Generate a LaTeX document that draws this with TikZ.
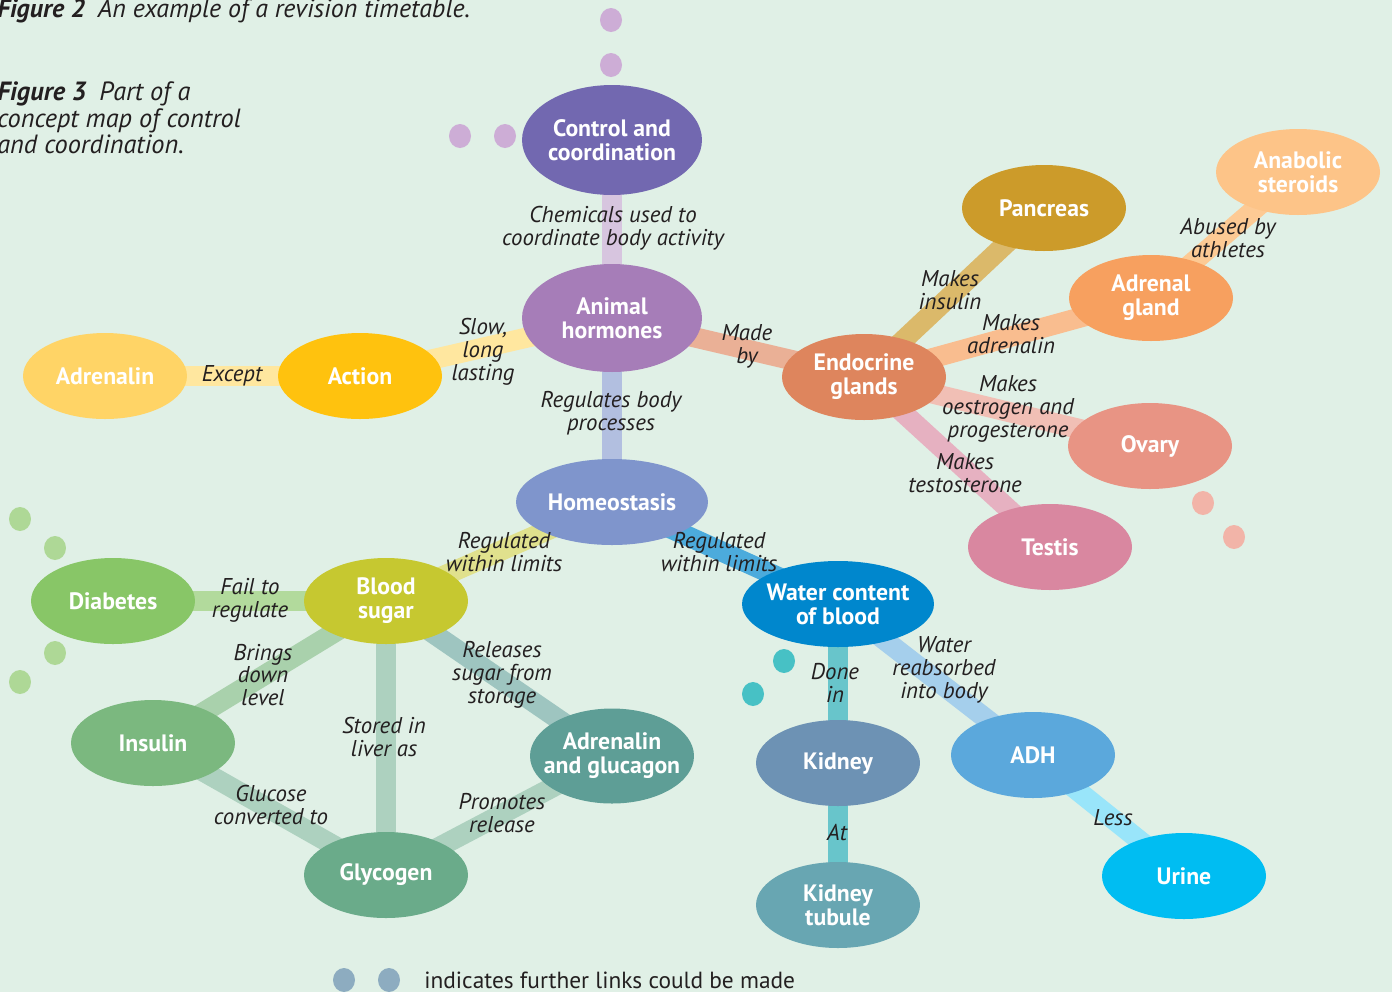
\documentclass[tikz,border=0pt]{standalone}
\usepackage{fontspec}
\setmainfont{PT Sans}
\usetikzlibrary{shapes.geometric}

\definecolor{bgc}{HTML}{E0F0E6}
\definecolor{ink}{HTML}{231F20}
\definecolor{ctrlc}{HTML}{7268B0}
\definecolor{hormc}{HTML}{A67DB8}
\definecolor{homc}{HTML}{7F95CC}
\definecolor{actc}{HTML}{FFC20E}
\definecolor{adrc}{HTML}{FFD466}
\definecolor{endoc}{HTML}{DE855D}
\definecolor{pancc}{HTML}{CC9B2A}
\definecolor{adglc}{HTML}{F7A05F}
\definecolor{anac}{HTML}{FDC488}
\definecolor{ovc}{HTML}{E89484}
\definecolor{tesc}{HTML}{D987A0}
\definecolor{bsc}{HTML}{C6C830}
\definecolor{diac}{HTML}{88C667}
\definecolor{insc}{HTML}{7BB87F}
\definecolor{glyc}{HTML}{6AAB8A}
\definecolor{agc}{HTML}{5E9E96}
\definecolor{wcc}{HTML}{0087CD}
\definecolor{kidc}{HTML}{6D92B4}
\definecolor{ktc}{HTML}{68A6B2}
\definecolor{adhc}{HTML}{5BA8DC}
\definecolor{urc}{HTML}{00BDF2}
\definecolor{kidlink}{HTML}{68C5CB}
\definecolor{purpdot}{HTML}{CDADD6}
\definecolor{greendot}{HTML}{AED896}
\definecolor{pinkdot}{HTML}{F2B4A8}
\definecolor{tealdot}{HTML}{47C1C5}
\definecolor{keydot}{HTML}{8DACC0}

\pgfdeclarelayer{back}
\pgfsetlayers{back,main}

\tikzset{main node/.style={ellipse,fill=#1,text=white,align=center,
    font=\bfseries\fontsize{13.5}{13.6}\selectfont,
    minimum width=3.28cm,minimum height=1.72cm,inner xsep=-7pt,inner ysep=0pt}}
\tikzset{link/.style={draw=#1,line width=11.5pt}}
\tikzset{lbl/.style={text=ink,align=center,inner sep=0pt,
    font=\itshape\fontsize{13}{13}\selectfont}}
\tikzset{dot/.style={ellipse,fill=#1,minimum width=0.44cm,minimum height=0.48cm,inner sep=0pt}}

\begin{document}
\begin{tikzpicture}[x=0.02cm,y=-0.02cm]
            \useasboundingbox (0,0) rectangle (1392,992);

            % concepts
            \node[main node=ctrlc, minimum width=3.6cm, minimum height=2.2cm] (ctrl) at (612,140) {Control and\\coordination};
            \node[main node=hormc, minimum width=3.6cm, minimum height=2.16cm] (horm) at (612,318) {Animal\\hormones};
            \node[main node=homc, minimum width=3.84cm] (homeo) at (612,502) {Homeostasis};
            \node[main node=actc] (action) at (360,376) {Action};
            \node[main node=adrc] (adren) at (105,376) {Adrenalin};
            \node[main node=endoc] (endo) at (864,377) {Endocrine\\glands};
            \node[main node=pancc] (panc) at (1044,208) {Pancreas};
            \node[main node=adglc] (adgl) at (1151,298) {Adrenal\\gland};
            \node[main node=anac] (ana) at (1298,172) {Anabolic\\steroids};
            \node[main node=ovc] (ovary) at (1150,446) {Ovary};
            \node[main node=tesc] (testis) at (1050,547) {Testis};
            \node[main node=bsc] (blood) at (386,601) {Blood\\sugar};
            \node[main node=diac] (diab) at (113,601) {Diabetes};
            \node[main node=insc] (insulin) at (153,743) {Insulin};
            \node[main node=glyc] (glyco) at (386,875) {Glycogen};
            \node[main node=agc, minimum height=1.9cm] (adgluc) at (612,756) {Adrenalin\\and glucagon};
            \node[main node=wcc, minimum width=3.84cm] (water) at (838,604) {Water content\\of blood};
            \node[main node=kidc] (kidney) at (838,763) {Kidney};
            \node[main node=ktc] (tubule) at (838,905) {Kidney\\tubule};
            \node[main node=adhc] (adh) at (1033,755) {ADH};
            \node[main node=urc] (urine) at (1184,876) {Urine};

            % links
            \begin{pgfonlayer}{back}
            \fill[bgc] (0,0) rectangle (1392,992);
            \draw[link=hormc!45!white] (ctrl.center) -- (horm.center);
            \draw[link=homc!60!white] (horm.center) -- (homeo.center);
            \draw[link=actc!40!white] (horm.center) -- (action.center);
            \draw[link=actc!40!white] (action.center) -- (adren.center);
            \draw[link=endoc!65!white] (horm.center) -- (endo.center);
            \draw[link=pancc!70!white] (endo.center) -- (panc.center);
            \draw[link=adglc!70!white] (endo.center) -- (adgl.center);
            \draw[link=anac!90!white] (adgl.center) -- (ana.center);
            \draw[link=ovc!60!white] (endo.center) -- (ovary.center);
            \draw[link=tesc!65!white] (endo.center) -- (testis.center);
            \draw[link=bsc!55!white] (homeo.center) -- (blood.center);
            \draw[link=wcc!70!white] (homeo.center) -- (water.center);
            \draw[link=diac!65!white] (blood.center) -- (diab.center);
            \draw[link=insc!65!white] (blood.center) -- (insulin.center);
            \draw[link=glyc!55!white] (blood.center) -- (glyco.center);
            \draw[link=agc!60!white] (blood.center) -- (adgluc.center);
            \draw[link=glyc!55!white] (insulin.center) -- (glyco.center);
            \draw[link=glyc!55!white] (glyco.center) -- (adgluc.center);
            \draw[link=kidlink] (water.center) -- (kidney.center);
            \draw[link=kidlink] (kidney.center) -- (tubule.center);
            \draw[link=adhc!55!white] (water.center) -- (adh.center);
            \draw[link=urc!40!white] (adh.center) -- (urine.center);
            \end{pgfonlayer}

            % link labels
            \node[lbl] (l1) at (613,228) {Chemicals used to\\coordinate body activity};
            \node[lbl] (l2) at (483,352) {Slow,\\long\\lasting};
            \node[lbl] (l3) at (747,346) {Made\\by};
            \node[lbl] (l4) at (611,413) {Regulates body\\processes};
            \node[lbl] (l5) at (232,376) {Except};
            \node[lbl] (l6) at (950,290) {Makes\\insulin};
            \node[lbl] (l7) at (1011,334) {Makes\\adrenalin};
            \node[lbl] (l8) at (1228,238) {Abused by\\athletes};
            \node[lbl] (l9) at (1008,409) {Makes\\oestrogen and\\progesterone};
            \node[lbl] (l10) at (965,473) {Makes\\testosterone};
            \node[lbl] (l11) at (504,552) {Regulated\\within limits};
            \node[lbl] (l12) at (719,552) {Regulated\\within limits};
            \node[lbl] (l13) at (250,600) {Fail to\\regulate};
            \node[lbl] (l14) at (263,675) {Brings\\down\\level};
            \node[lbl] (l15) at (502,675) {Releases\\sugar from\\storage};
            \node[lbl] (l16) at (384,737) {Stored in\\liver as};
            \node[lbl] (l17) at (271,805) {Glucose\\converted to};
            \node[lbl] (l18) at (502,813) {Promotes\\release};
            \node[lbl] (l19) at (835,683) {Done\\in};
            \node[lbl] (l20) at (944,670) {Water\\reabsorbed\\into body};
            \node[lbl] (l21) at (837,832) {At};
            \node[lbl] (l22) at (1113,818) {Less};

            % further links
            \node[dot=purpdot] (d1) at (611,20) {};
            \node[dot=purpdot] (d2) at (611,65) {};
            \node[dot=purpdot] (d3) at (460,136) {};
            \node[dot=purpdot] (d4) at (505,136) {};
            \node[dot=greendot] (d5) at (20,519) {};
            \node[dot=greendot] (d6) at (55,548) {};
            \node[dot=greendot] (d7) at (55,653) {};
            \node[dot=greendot] (d8) at (20,682) {};
            \node[dot=pinkdot] (d9) at (1203,503) {};
            \node[dot=pinkdot] (d10) at (1234,537) {};
            \node[dot=tealdot] (d11) at (784,661) {};
            \node[dot=tealdot] (d12) at (753,694) {};

            % captions and key
            \node[anchor=base west, text=ink, inner sep=0pt, font=\itshape\fontsize{14.8}{15}\selectfont] (fig2) at (-3,17) {\textbf{Figure 2}\enspace An example of a revision timetable.};
            \node[anchor=north west, text=ink, inner sep=0pt, align=left, font=\itshape\fontsize{15}{15.3}\selectfont] (fig3) at (-3,81) {\textbf{Figure 3}\enspace Part of a\\concept map of control\\and coordination.};
            \node[dot=keydot] (k1) at (344,980) {};
            \node[dot=keydot] (k2) at (389,980) {};
            \node[anchor=west, text=ink, inner sep=0pt, font=\fontsize{13.3}{15}\selectfont] (key) at (424,980) {indicates further links could be made};
        \end{tikzpicture}
\end{document}
